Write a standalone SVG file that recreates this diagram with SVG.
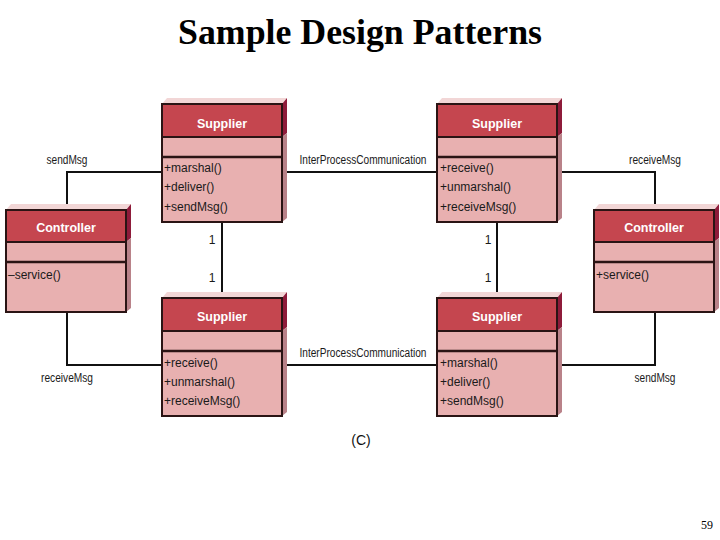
<svg xmlns="http://www.w3.org/2000/svg" width="720" height="540" viewBox="0 0 720 540">
<defs>
<style>
.top{fill:#f2d6d6}
.sideh{fill:#8e1b3a}
.sideb{fill:#b98289}
.hdr{fill:#c5464f;stroke:#2a1414;stroke-width:2}
.body{fill:#e8b0b0;stroke:#2a1414;stroke-width:2}
.sep{stroke:#2a1414;stroke-width:2.5}
.hname{font-family:"Liberation Sans",Arial,sans-serif;font-weight:bold;font-size:12.5px;fill:#fff;text-anchor:middle}
.mem{font-family:"Liberation Sans",Arial,sans-serif;font-size:12px;fill:#1a1a1a}
.lbl{font-family:"Liberation Sans",Arial,sans-serif;font-size:12px;fill:#1a1a1a;text-anchor:middle}
.conn{fill:none;stroke:#111;stroke-width:2}
</style>
</defs>
<rect width="720" height="540" fill="#fff"/>
<text x="360" y="44" font-family="Liberation Serif,'Times New Roman',serif" font-weight="bold" font-size="35.5" text-anchor="middle" fill="#000" textLength="364" lengthAdjust="spacingAndGlyphs">Sample Design Patterns</text>

<g id="connectors">
<polyline class="conn" points="67,210 67,172 162,172"/>
<line class="conn" x1="282" y1="172" x2="437" y2="172"/>
<polyline class="conn" points="557,172 655,172 655,210"/>
<line class="conn" x1="222" y1="222" x2="222" y2="298"/>
<line class="conn" x1="497" y1="222" x2="497" y2="298"/>
<polyline class="conn" points="67,312 67,365 162,365"/>
<line class="conn" x1="282" y1="365" x2="437" y2="365"/>
<polyline class="conn" points="557,365 655,365 655,312"/>
<text class="lbl" x="67" y="164" textLength="41" lengthAdjust="spacingAndGlyphs">sendMsg</text>
<text class="lbl" x="363" y="164" textLength="127" lengthAdjust="spacingAndGlyphs">InterProcessCommunication</text>
<text class="lbl" x="655" y="164" textLength="52" lengthAdjust="spacingAndGlyphs">receiveMsg</text>
<text class="lbl" x="212" y="244">1</text>
<text class="lbl" x="212" y="282">1</text>
<text class="lbl" x="488" y="244">1</text>
<text class="lbl" x="488" y="282">1</text>
<text class="lbl" x="67" y="382" textLength="52" lengthAdjust="spacingAndGlyphs">receiveMsg</text>
<text class="lbl" x="363" y="357" textLength="127" lengthAdjust="spacingAndGlyphs">InterProcessCommunication</text>
<text class="lbl" x="655" y="382" textLength="41" lengthAdjust="spacingAndGlyphs">sendMsg</text>
</g>

<g id="supplier-tl">
<polygon class="top" points="162,104 167,98 287,98 282,104"/>
<polygon class="sideh" points="282,104 287,98 287,133 282,137"/>
<polygon class="sideb" points="282,137 287,133 287,218 282,222"/>
<rect class="body" x="162" y="104" width="120" height="118"/>
<rect class="hdr" x="162" y="104" width="120" height="33"/>
<line class="sep" x1="162" y1="157" x2="282" y2="157"/>
<text class="hname" x="222" y="128">Supplier</text>
<text class="mem" x="164" y="172">+marshal()</text>
<text class="mem" x="164" y="191">+deliver()</text>
<text class="mem" x="164" y="211">+sendMsg()</text>
</g>

<g id="supplier-tr">
<polygon class="top" points="437,104 442,98 562,98 557,104"/>
<polygon class="sideh" points="557,104 562,98 562,133 557,137"/>
<polygon class="sideb" points="557,137 562,133 562,218 557,222"/>
<rect class="body" x="437" y="104" width="120" height="118"/>
<rect class="hdr" x="437" y="104" width="120" height="33"/>
<line class="sep" x1="437" y1="157" x2="557" y2="157"/>
<text class="hname" x="497" y="128">Supplier</text>
<text class="mem" x="440" y="172">+receive()</text>
<text class="mem" x="440" y="191">+unmarshal()</text>
<text class="mem" x="440" y="211">+receiveMsg()</text>
</g>

<g id="supplier-bl">
<polygon class="top" points="162,298 167,292 287,292 282,298"/>
<polygon class="sideh" points="282,298 287,292 287,327 282,331"/>
<polygon class="sideb" points="282,331 287,327 287,412 282,416"/>
<rect class="body" x="162" y="298" width="120" height="118"/>
<rect class="hdr" x="162" y="298" width="120" height="33"/>
<line class="sep" x1="162" y1="351" x2="282" y2="351"/>
<text class="hname" x="222" y="321">Supplier</text>
<text class="mem" x="164" y="367">+receive()</text>
<text class="mem" x="164" y="386">+unmarshal()</text>
<text class="mem" x="164" y="405">+receiveMsg()</text>
</g>

<g id="supplier-br">
<polygon class="top" points="437,298 442,292 562,292 557,298"/>
<polygon class="sideh" points="557,298 562,292 562,327 557,331"/>
<polygon class="sideb" points="557,331 562,327 562,412 557,416"/>
<rect class="body" x="437" y="298" width="120" height="118"/>
<rect class="hdr" x="437" y="298" width="120" height="33"/>
<line class="sep" x1="437" y1="351" x2="557" y2="351"/>
<text class="hname" x="497" y="321">Supplier</text>
<text class="mem" x="440" y="367">+marshal()</text>
<text class="mem" x="440" y="386">+deliver()</text>
<text class="mem" x="440" y="405">+sendMsg()</text>
</g>

<g id="controller-l">
<polygon class="top" points="6,210 11,204 131,204 126,210"/>
<polygon class="sideh" points="126,210 131,204 131,238 126,242"/>
<polygon class="sideb" points="126,242 131,238 131,308 126,312"/>
<rect class="body" x="6" y="210" width="120" height="102"/>
<rect class="hdr" x="6" y="210" width="120" height="32"/>
<line class="sep" x1="6" y1="262" x2="126" y2="262"/>
<text class="hname" x="66" y="232">Controller</text>
<text class="mem" x="8" y="279">–service()</text>
</g>

<g id="controller-r">
<polygon class="top" points="594,210 599,204 719,204 714,210"/>
<polygon class="sideh" points="714,210 719,204 719,238 714,242"/>
<polygon class="sideb" points="714,242 719,238 719,308 714,312"/>
<rect class="body" x="594" y="210" width="120" height="102"/>
<rect class="hdr" x="594" y="210" width="120" height="32"/>
<line class="sep" x1="594" y1="262" x2="714" y2="262"/>
<text class="hname" x="654" y="232">Controller</text>
<text class="mem" x="596" y="279">+service()</text>
</g>

<text x="361" y="445" font-family="'Liberation Sans',Arial,sans-serif" font-size="14" text-anchor="middle" fill="#111">(C)</text>
<text x="713" y="529" font-family="'Liberation Serif','Times New Roman',serif" font-size="12" text-anchor="end" fill="#000">59</text>
</svg>
